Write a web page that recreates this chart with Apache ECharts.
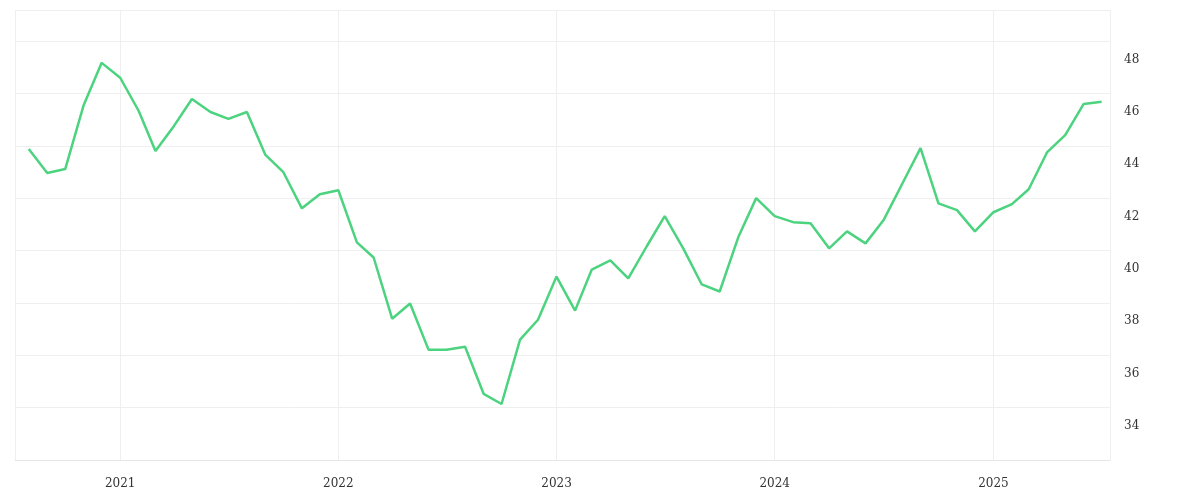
<!DOCTYPE html>
<html><head><meta charset="utf-8">
<script src="https://cdn.jsdelivr.net/npm/echarts@6/dist/echarts.min.js"></script>
<style>html,body{margin:0;padding:0;background:#fff}#c{width:1200px;height:500px}</style>
</head><body><div id="c"></div>
<script>
const startMonth = [2020, 8];
const values = [44.59,43.67,43.82,46.27,47.88,47.31,46.04,44.51,45.47,46.50,46.0,45.74,46.0,44.36,43.70,42.32,42.86,43.01,41.02,40.44,38.10,38.68,36.91,36.91,37.03,35.23,34.84,37.30,38.06,39.71,38.41,39.98,40.33,39.64,40.87,42.02,40.79,39.41,39.14,41.21,42.71,42.02,41.79,41.75,40.79,41.44,40.98,41.86,43.24,44.62,42.51,42.25,41.44,42.17,42.48,43.05,44.47,45.12,46.31,46.39];
const yTicks = [34,36,38,40,42,44,46,48];
const data = values.map((v,i)=>{const m=startMonth[1]-1+i;const y=startMonth[0]+Math.floor(m/12);const mm=(m%12)+1;return [y+'-'+String(mm).padStart(2,'0')+'-01',v];});
const chart = echarts.init(document.getElementById('c'));
chart.setOption({
  animation:false,
  grid:{left:15,right:90,top:10,bottom:40},
  xAxis:{type:'time',min:'2020-07-09',max:'2025-07-15',
    axisLine:{lineStyle:{color:'#e6e6e6'}},axisTick:{show:false},
    splitLine:{show:true,lineStyle:{color:'#efefef'}},
    axisLabel:{color:'#333',fontFamily:'DejaVu Serif',fontSize:12,formatter:'{yyyy}',margin:18},
    splitNumber:5, minInterval:365*24*3600*1000},
  yAxis:{type:'value',position:'right',min:32.7,max:49.9,interval:2,
    axisLine:{show:false},axisTick:{show:false},
    splitLine:{lineStyle:{color:'#efefef'}},
    axisLabel:{color:'#333',fontFamily:'DejaVu Serif',fontSize:12,margin:14,
      customValues:yTicks, formatter:v=>yTicks.includes(Math.round(v))?String(Math.round(v)):''}},
  series:[{type:'line',data:data,showSymbol:false,lineStyle:{color:'#4cd37f',width:2.5},itemStyle:{color:'#4cd37f'}}]
});
</script></body></html>
